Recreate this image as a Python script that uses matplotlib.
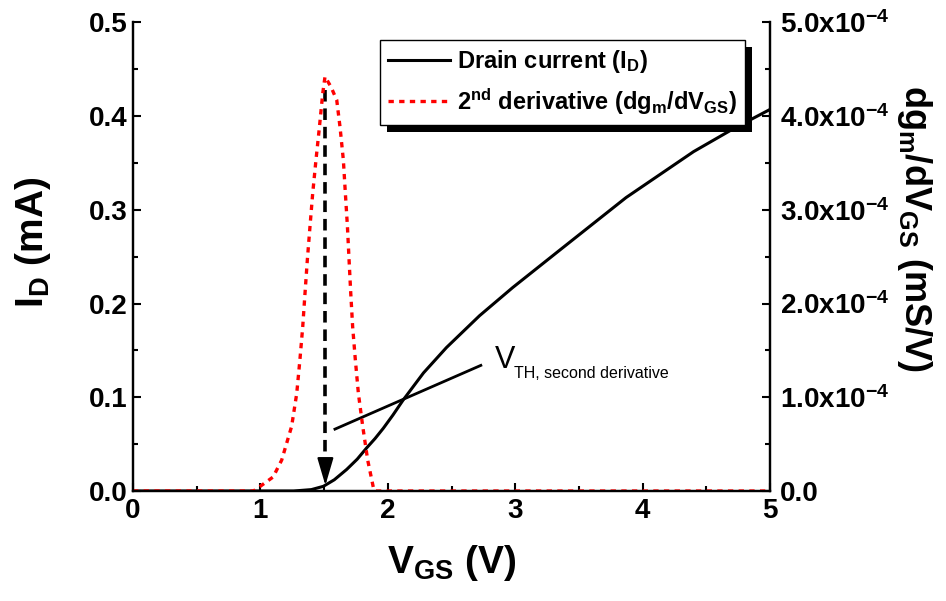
import matplotlib
matplotlib.use('Agg')
import matplotlib.pyplot as plt
import matplotlib.patheffects as pe
from matplotlib.ticker import MultipleLocator, FuncFormatter

plt.rcParams['font.family'] = ['Liberation Sans', 'DejaVu Sans']
plt.rcParams['font.weight'] = 'bold'
plt.rcParams['axes.labelweight'] = 'bold'
plt.rcParams['mathtext.fontset'] = 'custom'
plt.rcParams['mathtext.rm'] = 'Liberation Sans:bold'
plt.rcParams['mathtext.bf'] = 'Liberation Sans:bold'
plt.rcParams['mathtext.it'] = 'Liberation Sans:bold'
plt.rcParams['mathtext.default'] = 'rm'

# drain current I_D (mA) vs V_GS (V)
vgs_id = [0.0, 1.26, 1.4, 1.494, 1.58, 1.677, 1.76, 1.834, 1.9, 1.965, 2.04,
          2.12, 2.28, 2.46, 2.72, 2.98, 3.35, 3.87, 4.40, 4.72, 5.0]
id_ma = [0.0, 0.0, 0.0015, 0.005, 0.012, 0.023, 0.034, 0.046, 0.056, 0.067,
         0.081, 0.097, 0.126, 0.153, 0.187, 0.217, 0.257, 0.313, 0.362, 0.387,
         0.407]

# second derivative dgm/dVGS (x1e-4 mS/V)
vgs_d2 = [0.0, 0.94, 0.958, 1.10, 1.167, 1.245, 1.285, 1.31, 1.332, 1.35, 1.368,
          1.389, 1.41, 1.436, 1.463, 1.489, 1.507, 1.554, 1.599, 1.625, 1.651,
          1.667, 1.683, 1.696, 1.709, 1.724, 1.745, 1.769, 1.803, 1.842, 1.886,
          1.9, 5.0]
d2 = [0.0, 0.0, 0.01, 0.15, 0.33, 0.69, 1.04, 1.40, 1.75, 2.11, 2.46, 2.82, 3.17,
      3.53, 3.88, 4.24, 4.42, 4.31, 4.17, 3.88, 3.53, 3.17, 2.82, 2.46, 2.11,
      1.75, 1.40, 1.04, 0.69, 0.33, 0.04, 0.0, 0.0]
d2 = [v * 1e-4 for v in d2]

vth = 1.51

fig = plt.figure(figsize=(9.46, 6.01), dpi=100)
ax = fig.add_axes([0.1406, 0.183, 0.6734, 0.780])
ax2 = ax.twinx()

l1, = ax.plot(vgs_id, id_ma, color='k', lw=2.2, label='Drain current (I$_D$)')
l2, = ax2.plot(vgs_d2, d2, color='red', lw=2.4, ls=(0, (1.6, 1.6)),
               label='2$^{nd}$ derivative (dg$_m$/dV$_{GS}$)')

# dashed arrow down to threshold
ax.plot([vth, vth], [0.428, 0.034], color='k', lw=2.6, ls=(0, (3.2, 1.9)))
ax.annotate('', xy=(vth, 0.006), xytext=(vth, 0.034),
            arrowprops=dict(arrowstyle='-|>,head_length=1.7,head_width=0.5',
                            color='k', lw=1.5, shrinkA=0, shrinkB=0))

# tangent line + label
ax.plot([1.585, 2.73], [0.066, 0.134], color='k', lw=2.0)
ax.text(2.84, 0.131, 'V', fontsize=22, fontweight='normal', va='baseline')
ax.text(2.99, 0.1205, 'TH, second derivative', fontsize=11.5,
        fontweight='normal', va='baseline')

ax.set_xlim(0, 5)
ax.set_ylim(0, 0.5)
ax2.set_ylim(0, 5e-4)
ax.xaxis.set_major_locator(MultipleLocator(1))
ax.xaxis.set_minor_locator(MultipleLocator(0.5))
ax.yaxis.set_major_locator(MultipleLocator(0.1))
ax.yaxis.set_minor_locator(MultipleLocator(0.05))
ax2.yaxis.set_major_locator(MultipleLocator(1e-4))
ax2.yaxis.set_minor_locator(MultipleLocator(0.5e-4))
ax.yaxis.set_major_formatter(FuncFormatter(lambda v, p: '%.1f' % v))
ax.xaxis.set_major_formatter(FuncFormatter(lambda v, p: '%d' % round(v)))


def sci(v, p):
    if abs(v) < 1e-12:
        return '0.0'
    return r'%.1fx10$^{-4}$' % (v * 1e4)


ax2.yaxis.set_major_formatter(FuncFormatter(sci))

ax.tick_params(which='both', direction='in', top=False, right=False,
               labelsize=20, width=1.5)
ax.tick_params(which='major', length=6)
ax.tick_params(which='minor', length=3.5)
ax.tick_params(axis='x', pad=5)
ax.tick_params(axis='y', pad=4)
ax2.tick_params(which='both', direction='in', left=False, top=False,
                labelsize=20, width=1.5, pad=7)
ax2.tick_params(which='major', length=6)
ax2.tick_params(which='minor', length=3.5)

for a in (ax, ax2):
    a.spines['top'].set_visible(False)
    for s in ('left', 'right', 'bottom'):
        a.spines[s].set_linewidth(1.6)

ax.set_xlabel('V$_{GS}$ (V)', fontsize=28, fontweight='bold', va='top')
ax.xaxis.set_label_coords(0.5, -0.11)
ax.set_ylabel('I$_D$ (mA)', fontsize=28, fontweight='bold')
ax.yaxis.set_label_coords(-0.125, 0.53)
ax2.set_ylabel('dg$_m$/dV$_{GS}$ (mS/V)', fontsize=26, fontweight='bold',
               rotation=270, va='bottom')
ax2.yaxis.set_label_coords(1.196, 0.56)

leg = ax2.legend([l1, l2], [l1.get_label(), l2.get_label()], loc='upper right',
                 bbox_to_anchor=(0.961, 0.962), borderaxespad=0, fontsize=17,
                 fancybox=False, edgecolor='k', framealpha=1, handlelength=2.6,
                 handletextpad=0.3, borderpad=0.35, labelspacing=0.45)
leg.get_frame().set_linewidth(1.0)
leg.get_frame().set_path_effects([
    pe.SimplePatchShadow(offset=(5, -5), shadow_rgbFace='k', alpha=1),
    pe.Normal()])

fig.savefig('out.png', dpi=100)
